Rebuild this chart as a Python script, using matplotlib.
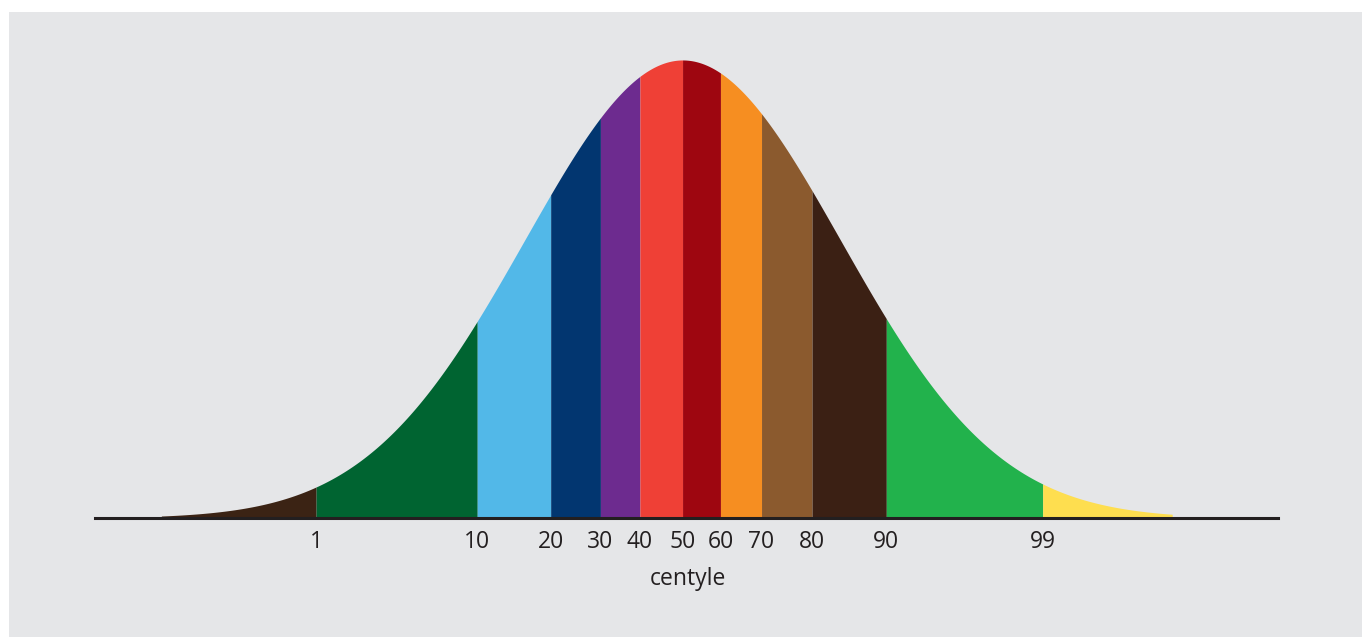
import numpy as np
import matplotlib.pyplot as plt

# granice pasm (w odchyleniach standardowych)
granice = [-3.3, -2.32, -1.30, -0.835, -0.52, -0.27, 0.0, 0.24, 0.50, 0.82, 1.29, 2.28, 3.1]
kolory = ['#3b2314', '#006431', '#52b8e8', '#023670', '#6d2b8f', '#ef4036',
          '#9e0610', '#f68e21', '#8b5a2e', '#3b2014', '#22b24c', '#fede4f']
etykiety = ['1', '10', '20', '30', '40', '50', '60', '70', '80', '90', '99']
pozycje_etykiet = granice[1:-1]

plt.rcParams['font.family'] = ['Open Sans', 'DejaVu Sans']

fig = plt.figure(figsize=(13.62, 6.37), dpi=100)
W, H = 1362, 637
# szare tło
fig.patches.append(plt.Rectangle((9 / W, 0), 1, 1 - 12 / H, transform=fig.transFigure,
                                 facecolor='#e5e6e8', edgecolor='none', zorder=-10))

ax = fig.add_axes([95 / W, (H - 518) / H, (1278 - 95) / W, (518 - 40) / H])
ax.set_facecolor('none')
ax.set_xlim(-3.72, 3.77)
ax.set_ylim(0, 0.3989 * 478 / 458)


def gestosc(z):
    return np.exp(-z ** 2 / 2) / np.sqrt(2 * np.pi)


for a, b, c in zip(granice[:-1], granice[1:], kolory):
    xs = np.linspace(a, b, 200)
    ax.fill_between(xs, 0, gestosc(xs), color=c, linewidth=0, zorder=2)

ax.axhline(0, color='#231f20', linewidth=2.2, zorder=3, clip_on=False)

for s in ax.spines.values():
    s.set_visible(False)
ax.set_yticks([])
ax.set_xticks(pozycje_etykiet)
ax.set_xticklabels(etykiety, fontsize=16.5, color='#231f20')
ax.tick_params(axis='x', length=0, pad=9)

fig.text(688 / W, 1 - 579 / H, 'centyle', ha='center', va='center',
         fontsize=16.5, color='#231f20')

fig.savefig('out.png', dpi=100)
